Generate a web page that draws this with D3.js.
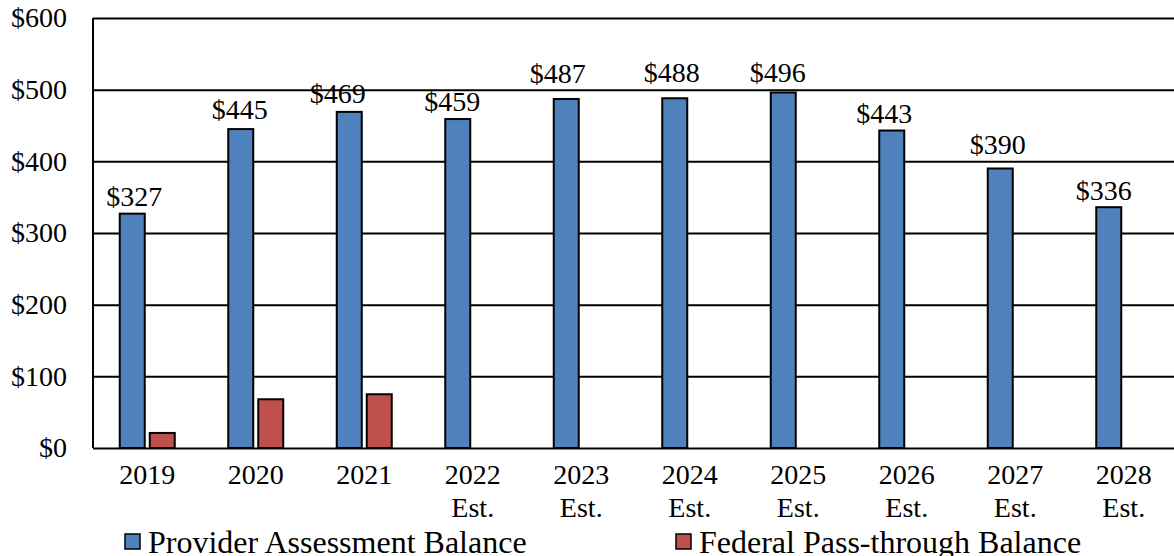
<!DOCTYPE html>
<html>
<head>
<meta charset="utf-8">
<script src="https://cdn.jsdelivr.net/npm/d3@7"></script>
<style>
  body { margin: 0; background: #fff; }
  svg { display: block; font-family: 'Liberation Serif', 'Times New Roman', serif; }
</style>
</head>
<body>
<div id="canvas"></div>
<script>
/*
 * Chart data
 *
 */
const years = ['2019', '2020', '2021', '2022', '2023', '2024', '2025', '2026', '2027', '2028'];
const estimated = [false, false, false, true, true, true, true, true, true, true];
const providerBalance = [327, 445, 469, 459, 487, 488, 496, 443, 390, 336];
const federalBalance = [21, 68, 75, 0, 0, 0, 0, 0, 0, 0];
const yTicks = [0, 100, 200, 300, 400, 500, 600];
const seriesNames = ['Provider Assessment Balance', 'Federal Pass-through Balance'];
const color = ['#4F81BD', '#C0504D'];

// hand placed label nudges (the original labels were dragged around a bit)
const labelDx = [2, -1, -11.5, -5.5, -8.5, -3, -5.5, -7.5, -2.5, -5];
const labelDy = [8, 10, 9, 8, 16, 16, 11, 8, 15, 7];

const margin = { top: 18, left: 93 };
const svgWidth = 1174,
  svgHeight = 556,
  width = 1085,
  height = 430;

const svg = d3.select('#canvas').append('svg')
  .attr('width', svgWidth)
  .attr('height', svgHeight);

const g = svg.append('g')
  .attr('transform', `translate(${margin.left},${margin.top})`);

/*
 * Scales
 *
 */
const x0 = d3.scaleBand()
  .domain(years)
  .range([0, width])
  .padding(0);

const pairWidth = 55;
const x1 = d3.scaleBand()
  .domain(['provider', 'federal'])
  .range([(x0.bandwidth() - pairWidth) / 2, (x0.bandwidth() + pairWidth) / 2])
  .paddingInner(1 / 6);

const y = d3.scaleLinear()
  .domain([0, 600])
  .range([height, 0]);

/*
 * Axes and grid
 *
 */
const leftAxis = g.append('g')
  .call(d3.axisLeft(y)
    .tickValues(yTicks)
    .tickSize(-width)
    .tickPadding(26)
    .tickFormat(d => '$' + d));
leftAxis.select('.domain').remove();
leftAxis.selectAll('.tick line')
  .attr('stroke', '#000')
  .attr('stroke-width', 2);
leftAxis.selectAll('.tick text')
  .attr('fill', '#000')
  .style('font-size', '28px')
  .style('font-family', "'Liberation Serif', serif");

g.append('line')
  .attr('x1', 0).attr('x2', 0)
  .attr('y1', 0).attr('y2', height)
  .attr('stroke', '#000')
  .attr('stroke-width', 2);

const bottomAxis = g.append('g')
  .attr('transform', `translate(0,${height})`)
  .call(d3.axisBottom(x0).tickSize(0).tickFormat(''));
bottomAxis.select('.domain').remove();
bottomAxis.selectAll('.tick').each(function(d, i) {
  const t = d3.select(this).append('text')
    .attr('fill', '#000')
    .attr('text-anchor', 'middle')
    .style('font-size', '28px')
    .style('font-family', "'Liberation Serif', serif");
  t.append('tspan').attr('x', 0).attr('y', 36).text(d);
  if (estimated[i]) {
    t.append('tspan').attr('x', 0).attr('y', 69).text('Est.');
  }
});

/*
 * Bars
 *
 */
const groups = g.append('g').selectAll('g')
  .data(years)
  .enter()
  .append('g')
  .attr('transform', d => `translate(${x0(d)},0)`);

groups.append('rect')
  .attr('x', x1('provider'))
  .attr('width', x1.bandwidth())
  .attr('y', (d, i) => y(providerBalance[i]))
  .attr('height', (d, i) => height - y(providerBalance[i]))
  .attr('fill', color[0])
  .attr('stroke', '#000')
  .attr('stroke-width', 2);

groups.filter((d, i) => federalBalance[i] > 0)
  .append('rect')
  .attr('x', x1('federal'))
  .attr('width', x1.bandwidth())
  .attr('y', d => y(federalBalance[years.indexOf(d)]))
  .attr('height', d => height - y(federalBalance[years.indexOf(d)]))
  .attr('fill', color[1])
  .attr('stroke', '#000')
  .attr('stroke-width', 2);

groups.append('text')
  .attr('x', (d, i) => x1('provider') + x1.bandwidth() / 2 + labelDx[i])
  .attr('y', (d, i) => y(providerBalance[i]) - labelDy[i])
  .attr('text-anchor', 'middle')
  .style('font-size', '28px')
  .text((d, i) => '$' + providerBalance[i]);

/*
 * Legend
 *
 */
const legendX = [125, 676];
const legend = svg.append('g').selectAll('g')
  .data(seriesNames)
  .enter()
  .append('g')
  .attr('transform', (d, i) => `translate(${legendX[i]},534)`);

legend.append('rect')
  .attr('width', 15)
  .attr('height', 15)
  .attr('fill', (d, i) => color[i])
  .attr('stroke', '#000')
  .attr('stroke-width', 1.5);

legend.append('text')
  .attr('x', 23)
  .attr('y', 19)
  .style('font-size', '32px')
  .text(d => d);
</script>
</body>
</html>
